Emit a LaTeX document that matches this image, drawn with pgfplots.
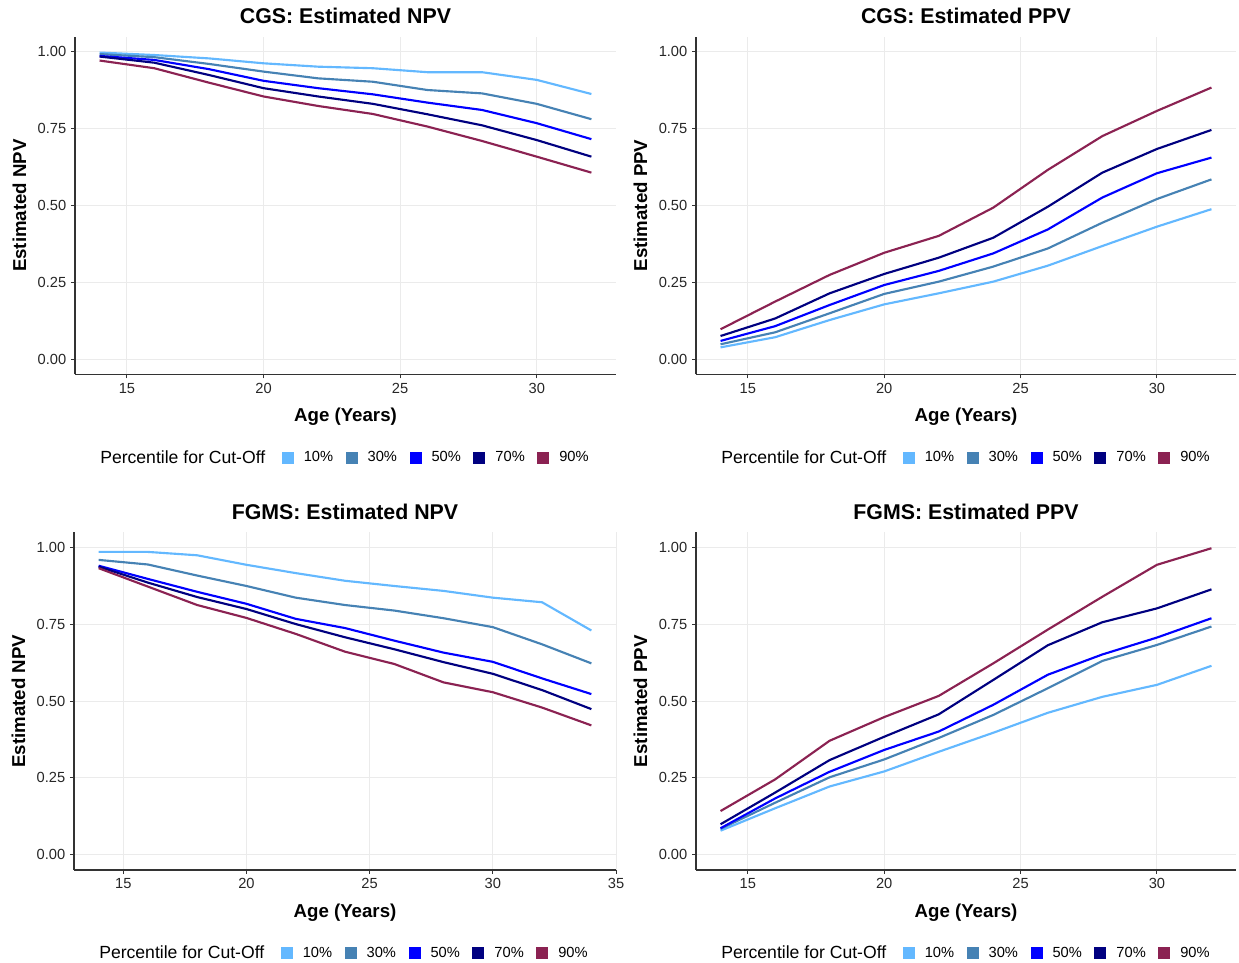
\documentclass[border=0pt]{standalone}
\usepackage{fontspec}
\setmainfont{Liberation Sans}
\usepackage{pgfplots}
\pgfplotsset{compat=1.18}

\definecolor{p10}{HTML}{63B8FF}
\definecolor{p30}{HTML}{4682B4}
\definecolor{p50}{HTML}{0000FF}
\definecolor{p70}{HTML}{000080}
\definecolor{p90}{HTML}{8B2252}

\pgfplotsset{
  panel/.style={
    scale only axis,
    ymin=-0.05, ymax=1.05,
    ytick={0,0.25,0.5,0.75,1},
    axis x line*=bottom, axis y line*=left,
    axis line style={-, black!80, line width=1pt},
    grid=major,
    grid style={color=black!8, line width=0.75pt},
    tick align=outside,
    major tick length=3pt,
    tick style={black!80, line width=0.75pt},
    tick label style={font=\fontsize{11}{13}\selectfont, text=black!85},
    /pgf/number format/assume math mode=true,
    yticklabel style={/pgf/number format/fixed, /pgf/number format/fixed zerofill, /pgf/number format/precision=2},
    xtick pos=bottom, ytick pos=left,
    title style={font=\bfseries\fontsize{16}{18}\selectfont, at={([yshift=9.5pt]axis description cs:0.5,1)}, anchor=center},
    xlabel style={font=\bfseries\fontsize{14}{16}\selectfont, at={([yshift=-31.7pt]axis description cs:0.5,0)}, anchor=center},
    ylabel style={font=\bfseries\fontsize{14}{16}\selectfont, at={([xshift=-41.7pt]axis description cs:0,0.5)}, anchor=center},
    xlabel={Age (Years)},
    every axis plot/.append style={line width=1.6pt, line join=round},
    legend columns=6,
    legend image code/.code={\path[draw=none, fill=none] (-9.4pt,0) -- (16.5pt,0); \fill[##1, draw=none] (0pt,-4.5pt) rectangle (9pt,4.5pt);},
    legend style={draw=none, fill=none, inner sep=0pt, anchor=west,
      at={([xshift=18.75pt, yshift=-62.5pt]axis description cs:0,0)},
      nodes={inner sep=0pt},
      column sep=0pt,
      font=\fontsize{11}{13}\selectfont},
  },
}

\newcommand{\legtitle}{\addlegendimage{empty legend}\addlegendentry{\fontsize{13.2}{15}\selectfont Percentile for Cut-Off\kern3pt}}

\begin{document}
\begin{tikzpicture}
\useasboundingbox (0pt,0pt) rectangle (929.25pt,722.25pt);

% CGS NPV
\begin{axis}[panel, at={(56.25pt,441.45pt)}, anchor=south west, width=405.75pt, height=253.35pt,
  xmin=13.1, xmax=32.9, xtick={15,20,25,30},
  title={CGS: Estimated NPV}, ylabel={Estimated NPV}]
\legtitle
\addplot[p10] coordinates {(14,0.998) (16,0.990) (18,0.979) (20,0.963) (22,0.952) (24,0.947) (26,0.934) (28,0.934) (30,0.909) (32,0.863)};
\addlegendentry{10\%}
\addplot[p30] coordinates {(14,0.993) (16,0.983) (18,0.961) (20,0.936) (22,0.914) (24,0.903) (26,0.876) (28,0.865) (30,0.831) (32,0.781)};
\addlegendentry{30\%}
\addplot[p50] coordinates {(14,0.987) (16,0.974) (18,0.944) (20,0.906) (22,0.882) (24,0.862) (26,0.835) (28,0.811) (30,0.768) (32,0.716)};
\addlegendentry{50\%}
\addplot[p70] coordinates {(14,0.985) (16,0.965) (18,0.925) (20,0.882) (22,0.855) (24,0.831) (26,0.797) (28,0.761) (30,0.713) (32,0.659)};
\addlegendentry{70\%}
\addplot[p90] coordinates {(14,0.972) (16,0.947) (18,0.900) (20,0.855) (22,0.824) (24,0.798) (26,0.757) (28,0.710) (30,0.659) (32,0.607)};
\addlegendentry{90\%}
\end{axis}

% CGS PPV
\begin{axis}[panel, at={(522pt,441.45pt)}, anchor=south west, width=405pt, height=253.35pt,
  xmin=13.1, xmax=32.9, xtick={15,20,25,30},
  title={CGS: Estimated PPV}, ylabel={Estimated PPV}]
\legtitle
\addplot[p10] coordinates {(14,0.038) (16,0.071) (18,0.127) (20,0.178) (22,0.214) (24,0.252) (26,0.304) (28,0.368) (30,0.431) (32,0.488)};
\addlegendentry{10\%}
\addplot[p30] coordinates {(14,0.048) (16,0.087) (18,0.149) (20,0.212) (22,0.252) (24,0.301) (26,0.360) (28,0.444) (30,0.521) (32,0.585)};
\addlegendentry{30\%}
\addplot[p50] coordinates {(14,0.059) (16,0.107) (18,0.176) (20,0.241) (22,0.287) (24,0.344) (26,0.422) (28,0.526) (30,0.605) (32,0.656)};
\addlegendentry{50\%}
\addplot[p70] coordinates {(14,0.075) (16,0.132) (18,0.214) (20,0.277) (22,0.330) (24,0.395) (26,0.496) (28,0.607) (30,0.684) (32,0.746)};
\addlegendentry{70\%}
\addplot[p90] coordinates {(14,0.097) (16,0.187) (18,0.274) (20,0.346) (22,0.401) (24,0.493) (26,0.616) (28,0.726) (30,0.808) (32,0.884)};
\addlegendentry{90\%}
\end{axis}

% FGMS NPV
\begin{axis}[panel, at={(55.5pt,69.75pt)}, anchor=south west, width=406.5pt, height=253.3pt,
  xmin=13, xmax=35, xtick={15,20,25,30,35},
  title={FGMS: Estimated NPV}, ylabel={Estimated NPV}]
\legtitle
\addplot[p10] coordinates {(14,0.986) (16,0.986) (18,0.975) (20,0.944) (22,0.917) (24,0.892) (26,0.875) (28,0.859) (30,0.837) (32,0.822) (34,0.730)};
\addlegendentry{10\%}
\addplot[p30] coordinates {(14,0.960) (16,0.945) (18,0.909) (20,0.875) (22,0.837) (24,0.813) (26,0.795) (28,0.770) (30,0.741) (32,0.685) (34,0.623)};
\addlegendentry{30\%}
\addplot[p50] coordinates {(14,0.941) (16,0.898) (18,0.856) (20,0.817) (22,0.768) (24,0.738) (26,0.697) (28,0.658) (30,0.628) (32,0.574) (34,0.523)};
\addlegendentry{50\%}
\addplot[p70] coordinates {(14,0.938) (16,0.886) (18,0.839) (20,0.800) (22,0.751) (24,0.708) (26,0.669) (28,0.627) (30,0.589) (32,0.536) (34,0.474)};
\addlegendentry{70\%}
\addplot[p90] coordinates {(14,0.933) (16,0.873) (18,0.813) (20,0.771) (22,0.719) (24,0.661) (26,0.621) (28,0.561) (30,0.529) (32,0.479) (34,0.421)};
\addlegendentry{90\%}
\end{axis}

% FGMS PPV
\begin{axis}[panel, at={(522pt,69.75pt)}, anchor=south west, width=405pt, height=253.3pt,
  xmin=13.1, xmax=32.9, xtick={15,20,25,30},
  title={FGMS: Estimated PPV}, ylabel={Estimated PPV}]
\legtitle
\addplot[p10] coordinates {(14,0.078) (16,0.151) (18,0.222) (20,0.271) (22,0.335) (24,0.397) (26,0.462) (28,0.514) (30,0.553) (32,0.615)};
\addlegendentry{10\%}
\addplot[p30] coordinates {(14,0.084) (16,0.169) (18,0.252) (20,0.310) (22,0.380) (24,0.455) (26,0.542) (28,0.631) (30,0.683) (32,0.743)};
\addlegendentry{30\%}
\addplot[p50] coordinates {(14,0.086) (16,0.183) (18,0.270) (20,0.341) (22,0.401) (24,0.488) (26,0.586) (28,0.652) (30,0.707) (32,0.770)};
\addlegendentry{50\%}
\addplot[p70] coordinates {(14,0.099) (16,0.202) (18,0.308) (20,0.384) (22,0.457) (24,0.569) (26,0.682) (28,0.757) (30,0.802) (32,0.864)};
\addlegendentry{70\%}
\addplot[p90] coordinates {(14,0.142) (16,0.245) (18,0.371) (20,0.448) (22,0.517) (24,0.623) (26,0.733) (28,0.840) (30,0.944) (32,0.998)};
\addlegendentry{90\%}
\end{axis}
\end{tikzpicture}
\end{document}
